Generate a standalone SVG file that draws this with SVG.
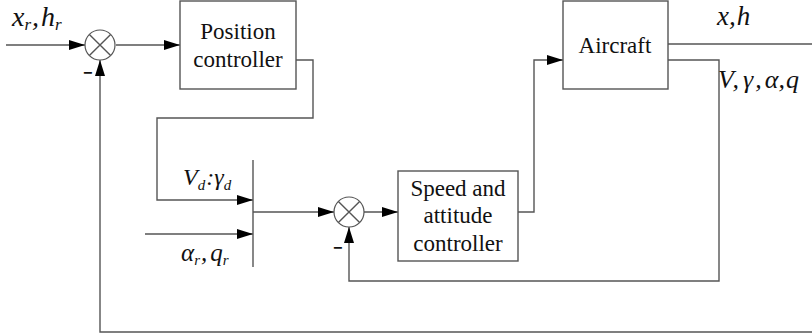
<svg xmlns="http://www.w3.org/2000/svg" width="812" height="336" viewBox="0 0 812 336">
<defs>
<marker id="ah" markerWidth="16" markerHeight="10" refX="16" refY="5" orient="auto" markerUnits="userSpaceOnUse">
<path d="M0,0 L16,5 L0,10 Z" fill="#000"/>
</marker>
<style>
.ln{fill:none;stroke:#555;stroke-width:1.4}
.box{fill:#fff;stroke:#555;stroke-width:1.4}
.sum{fill:#fff;stroke:#555;stroke-width:1.2}
.bt{font-family:'Liberation Serif','DejaVu Serif',serif;font-size:23px;fill:#111;text-anchor:middle}
.mt{font-family:'Liberation Serif','DejaVu Serif',serif;font-style:italic;fill:#111}
.mn{font-family:'Liberation Sans',sans-serif;font-weight:bold;font-size:16px;fill:#111}
</style>
</defs>
<rect width="812" height="336" fill="#fff"/>
<g id="connectors">
<path class="ln" d="M6,45 H85" marker-end="url(#ah)"/>
<path class="ln" d="M116,45 H180" marker-end="url(#ah)"/>
<path class="ln" d="M296,60 H313 V118 H157 V200 H253" marker-end="url(#ah)"/>
<path class="ln" d="M145,234 H253" marker-end="url(#ah)"/>
<path class="ln" d="M253,212 H334" marker-end="url(#ah)"/>
<path class="ln" d="M364,212 H398" marker-end="url(#ah)"/>
<path class="ln" d="M518,212 H534 V60 H563" marker-end="url(#ah)"/>
<path class="ln" d="M668,44 H812"/>
<path class="ln" d="M668,60 H719 V281 H349 V227" marker-end="url(#ah)"/>
<path class="ln" d="M812,332 H100 V60" marker-end="url(#ah)"/>
</g>
<g id="sum1">
<circle class="sum" cx="100" cy="45" r="15"/>
<path class="ln" stroke-width="1" d="M89.4,34.4 L110.6,55.6 M110.6,34.4 L89.4,55.6"/>
<text class="mn" x="83" y="78">−</text>
</g>
<g id="position-controller">
<rect class="box" x="180" y="1" width="116" height="88"/>
<text class="bt" x="238" y="39">Position</text>
<text class="bt" x="238" y="67">controller</text>
</g>
<g id="mux">
<path class="ln" d="M253,160 V267"/>
</g>
<g id="sum2">
<circle class="sum" cx="349" cy="212" r="15"/>
<path class="ln" stroke-width="1" d="M338.4,201.4 L359.6,222.6 M359.6,201.4 L338.4,222.6"/>
<text class="mn" x="333" y="253">−</text>
</g>
<g id="speed-attitude-controller">
<rect class="box" x="398" y="171" width="120" height="90"/>
<text class="bt" x="458" y="196">Speed and</text>
<text class="bt" x="458" y="223">attitude</text>
<text class="bt" x="458" y="251">controller</text>
</g>
<g id="aircraft">
<rect class="box" x="563" y="1" width="105" height="88"/>
<text class="bt" x="615" y="53">Aircraft</text>
</g>
<g id="labels">
<text class="mt" x="12" y="26" font-size="28">x<tspan font-size="17" dy="4">r</tspan><tspan dy="-4" dx="1">,</tspan><tspan dx="2">h</tspan><tspan font-size="17" dy="4">r</tspan></text>
<text class="mt" x="717" y="25" font-size="27">x,<tspan dx="1">h</tspan></text>
<text class="mt" x="718" y="88" font-size="26">V<tspan dx="2">,</tspan><tspan dx="4">γ</tspan><tspan dx="2">,</tspan><tspan dx="3">α</tspan>,<tspan dx="1">q</tspan></text>
<text class="mt" x="183" y="185" font-size="24">V<tspan font-size="15" dy="5">d</tspan><tspan dy="-5" dx="1">:</tspan>γ<tspan font-size="15" dy="5">d</tspan></text>
<text class="mt" x="181" y="261" font-size="25">α<tspan font-size="15" dy="4">r</tspan><tspan dy="-4" dx="1">,</tspan><tspan dx="3">q</tspan><tspan font-size="15" dy="4">r</tspan></text>
</g>
</svg>
